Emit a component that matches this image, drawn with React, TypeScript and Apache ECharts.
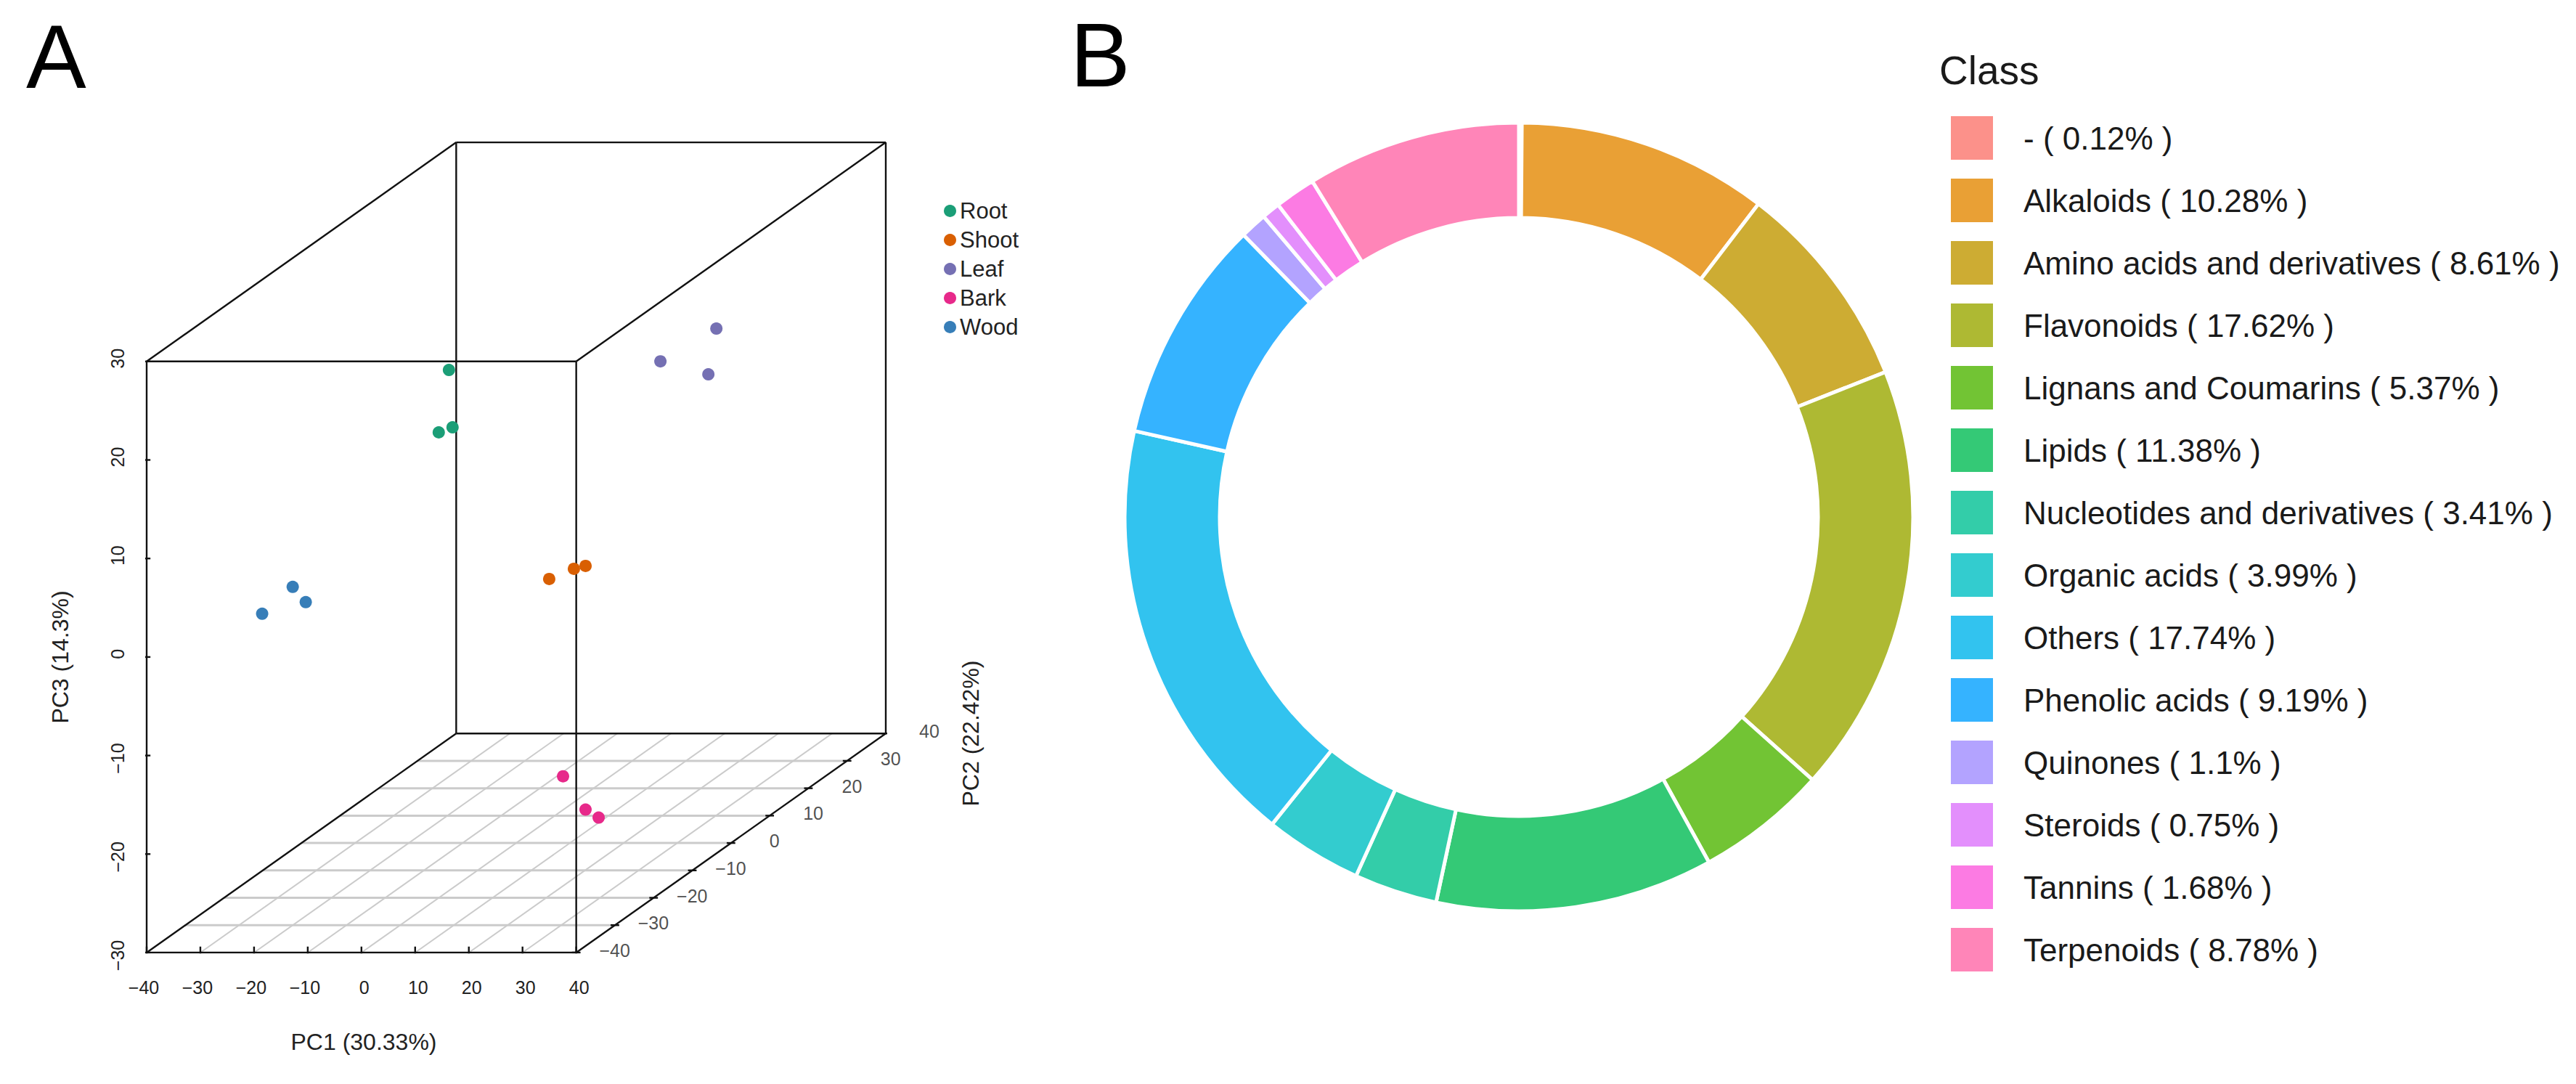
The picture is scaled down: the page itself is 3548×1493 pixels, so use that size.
import React, { useEffect, useRef } from "react";
import * as echarts from "echarts";

const FONT = "Liberation Sans";

// Panel A: [PC1, PC2, PC3]
const groupNames = ["Root", "Shoot", "Leaf", "Bark", "Wood"];
const root = [[-26.94, 20, 12.45], [-28.84, 20, 6.12], [-26.27, 20, 6.63]];
const shoot = [[13.35, -10, -0.42], [17.95, -10, 0.61], [20.12, -10, 0.91]];
const leaf = [[8.84, 25, 11.94], [19.26, 25, 15.26], [17.77, 25, 10.62]];
const bark = [[19.53, -15, -19.06], [23.72, -15, -22.44], [26.16, -15, -23.25]];
const wood = [[-23.61, -25, 2.95], [-21.18, -25, 1.4], [-29.3, -25, 0.22]];
const groupValues = [root, shoot, leaf, bark, wood];
const groupColors = ["#1B9E77", "#D95F02", "#7570B3", "#E7298A", "#377EB8"];

const pc1Ticks = [-40, -30, -20, -10, 0, 10, 20, 30, 40];
const pc2Ticks = [-40, -30, -20, -10, 0, 10, 20, 30, 40];
const pc3Ticks = [-30, -20, -10, 0, 10, 20, 30];

// Panel B
const classNames = [
  "-", "Alkaloids", "Amino acids and derivatives", "Flavonoids", "Lignans and Coumarins", "Lipids",
  "Nucleotides and derivatives", "Organic acids", "Others", "Phenolic acids", "Quinones", "Steroids",
  "Tannins", "Terpenoids",
];
const classValues = [0.12, 10.28, 8.61, 17.62, 5.37, 11.38, 3.41, 3.99, 17.74, 9.19, 1.1, 0.75, 1.68, 8.78];
const classColors = [
  "#FC918A", "#E9A035", "#CDAC33", "#AEB933", "#72C434", "#34C976", "#33CDA9",
  "#33CCCF", "#32C3EF", "#35B3FF", "#B3A3FF", "#E38FFC", "#FC7BE3", "#FF85B8",
];

// scatterplot3d-style oblique projection, per PC2 unit, in PC1 / PC3 axis units
const DEPTH_X = 0.7206;
const DEPTH_Y = 0.278;
const project = (p: number[]) => [p[0] + (p[1] + 40) * DEPTH_X, p[2] + (p[1] + 40) * DEPTH_Y];

const seg = (a: number[], b: number[], color: string, width: number) => ({
  type: "line",
  silent: true,
  showSymbol: false,
  symbol: "none",
  z: color === "#111111" ? 3 : 2,
  lineStyle: { color, width, cap: "butt" },
  data: [project(a), project(b)],
});

const minus = (v: number | string) => String(v).replace("-", "\u2212");
// R nudges signed tick labels off their ticks: negative labels one way, the rest the other
const signedLabel = (v: number | string) => `{${Number(v) < 0 ? "neg" : "pos"}|${minus(v)}}`;
const labelRich = {
  neg: { fontFamily: FONT, fontSize: 25, color: "#222222", padding: [0, 8, 0, 0] },
  pos: { fontFamily: FONT, fontSize: 25, color: "#222222", padding: [0, 0, 0, 8] },
};

function buildOption() {
  const X0 = -40, X1 = 40, Y0 = -40, Y1 = 40, Z0 = -30, Z1 = 30;
  const black = "#111111";
  const grey = "#CBCBCB";
  const series: any[] = [];

  pc1Ticks.slice(1, -1).forEach((v) => series.push(seg([v, Y0, Z0], [v, Y1, Z0], grey, 2)));
  pc2Ticks.slice(1, -1).forEach((v) => series.push(seg([X0, v, Z0], [X1, v, Z0], grey, 3)));

  const c = [
    [X0, Y0, Z0], [X1, Y0, Z0], [X1, Y0, Z1], [X0, Y0, Z1],
    [X0, Y1, Z0], [X1, Y1, Z0], [X1, Y1, Z1], [X0, Y1, Z1],
  ];
  const edges = [
    [0, 1], [1, 2], [2, 3], [3, 0], [4, 5], [5, 6], [6, 7], [7, 4], [0, 4], [1, 5], [2, 6], [3, 7],
  ];
  edges.forEach(([a, b]) => series.push(seg(c[a], c[b], black, 2.4)));

  pc1Ticks.forEach((v) => {
    const [x, y] = project([v, Y0, Z0]);
    series.push({ ...seg([v, Y0, Z0], [v, Y0, Z0], black, 2.4), data: [[x, y - 0.6], [x, y + 0.6]] });
  });
  pc3Ticks.forEach((v) => {
    const [x, y] = project([X0, Y0, v]);
    series.push({ ...seg([X0, Y0, v], [X0, Y0, v], black, 2.4), data: [[x - 0.8, y], [x + 0.7, y]] });
  });
  pc2Ticks.forEach((v) => {
    const [x, y] = project([X1, v, Z0]);
    series.push({ ...seg([X1, v, Z0], [X1, v, Z0], black, 2.4), data: [[x - 0.8, y], [x + 0.8, y]] });
  });

  // PC2 tick labels sit along the oblique right-hand floor edge
  series.push({
    type: "scatter",
    silent: true,
    symbolSize: 0,
    data: pc2Ticks.map((v) => ({
      value: project([X1, v, Z0]).concat(v),
      label: { offset: [v < 0 ? 53 : 60, -3] },
    })),
    label: {
      show: true,
      position: "inside",
      color: "#222222",
      fontFamily: FONT,
      fontSize: 25,
      formatter: (p: any) => minus(p.value[2]),
    },
  });

  groupNames.forEach((name, i) => {
    series.push({
      type: "scatter",
      name,
      symbol: "circle",
      symbolSize: 17,
      z: 5,
      itemStyle: { color: groupColors[i], opacity: 1 },
      data: groupValues[i].map(project),
    });
  });

  series.push({
    type: "pie",
    name: "Class",
    center: [2092, 712],
    radius: [412, 543],
    startAngle: 90,
    clockwise: true,
    label: { show: false },
    labelLine: { show: false },
    emphasis: { disabled: true },
    itemStyle: { borderColor: "#FFFFFF", borderWidth: 5 },
    data: classNames.map((name, i) => ({
      name,
      value: classValues[i],
      itemStyle: { color: classColors[i] },
    })),
  });

  const rotLabel = (text: string, x: number, y: number) => ({
    type: "text",
    x,
    y,
    rotation: Math.PI / 2,
    style: { text, font: `32px "${FONT}"`, fill: "#222222", textAlign: "center", textVerticalAlign: "middle" },
  });

  return {
    animation: false,
    backgroundColor: "#FFFFFF",
    textStyle: { fontFamily: FONT },
    grid: { left: 202, top: 196, width: 1018, height: 1116, containLabel: false },
    xAxis: {
      type: "value",
      min: -40,
      max: 40 + 80 * DEPTH_X,
      splitLine: { show: false },
      axisLine: { show: false },
      axisTick: { show: false },
      axisLabel: {
        customValues: pc1Ticks,
        margin: 35,
        hideOverlap: false,
        formatter: signedLabel,
        rich: labelRich,
      },
    },
    yAxis: {
      type: "value",
      min: -30,
      max: 30 + 80 * DEPTH_Y,
      splitLine: { show: false },
      axisLine: { show: false },
      axisTick: { show: false },
      axisLabel: {
        customValues: pc3Ticks,
        rotate: 90,
        margin: 28,
        hideOverlap: false,
        formatter: signedLabel,
        rich: labelRich,
      },
    },
    legend: [
      {
        data: groupNames,
        orient: "vertical",
        left: 1300,
        top: 275,
        padding: 0,
        icon: "circle",
        itemWidth: 17,
        itemHeight: 17,
        itemGap: 9,
        selectedMode: false,
        textStyle: { fontFamily: FONT, fontSize: 31, color: "#222222" },
      },
      {
        data: classNames,
        orient: "vertical",
        left: 2685,
        top: 158,
        padding: 0,
        icon: "rect",
        itemWidth: 60,
        itemHeight: 62,
        itemGap: 22,
        selectedMode: false,
        formatter: (name: string) => `${name} ( ${classValues[classNames.indexOf(name)]}% )`,
        textStyle: { fontFamily: FONT, fontSize: 44, color: "#1A1A1A", padding: [0, 0, 0, 36] },
      },
    ],
    graphic: [
      { type: "text", x: 36, y: 78, style: { text: "A", font: `124px "${FONT}"`, fill: "#000000", textVerticalAlign: "middle" } },
      { type: "text", x: 1474, y: 76, style: { text: "B", font: `124px "${FONT}"`, fill: "#000000", textVerticalAlign: "middle" } },
      { type: "text", x: 2671, y: 97, style: { text: "Class", font: `55px "${FONT}"`, fill: "#1A1A1A", textVerticalAlign: "middle" } },
      { type: "text", x: 501, y: 1435, style: { text: "PC1 (30.33%)", font: `32px "${FONT}"`, fill: "#222222", textAlign: "center", textVerticalAlign: "middle" } },
      rotLabel("PC3 (14.3%)", 83, 905),
      rotLabel("PC2 (22.42%)", 1337, 1010),
    ],
    series,
  };
}

export default function App() {
  const ref = useRef<HTMLDivElement>(null);
  useEffect(() => {
    const chart = echarts.init(ref.current!, undefined, { renderer: "svg" });
    chart.setOption(buildOption() as any);
    return () => chart.dispose();
  }, []);
  return <div ref={ref} style={{ position: "absolute", left: 0, top: 0, width: 3548, height: 1493 }} />;
}
